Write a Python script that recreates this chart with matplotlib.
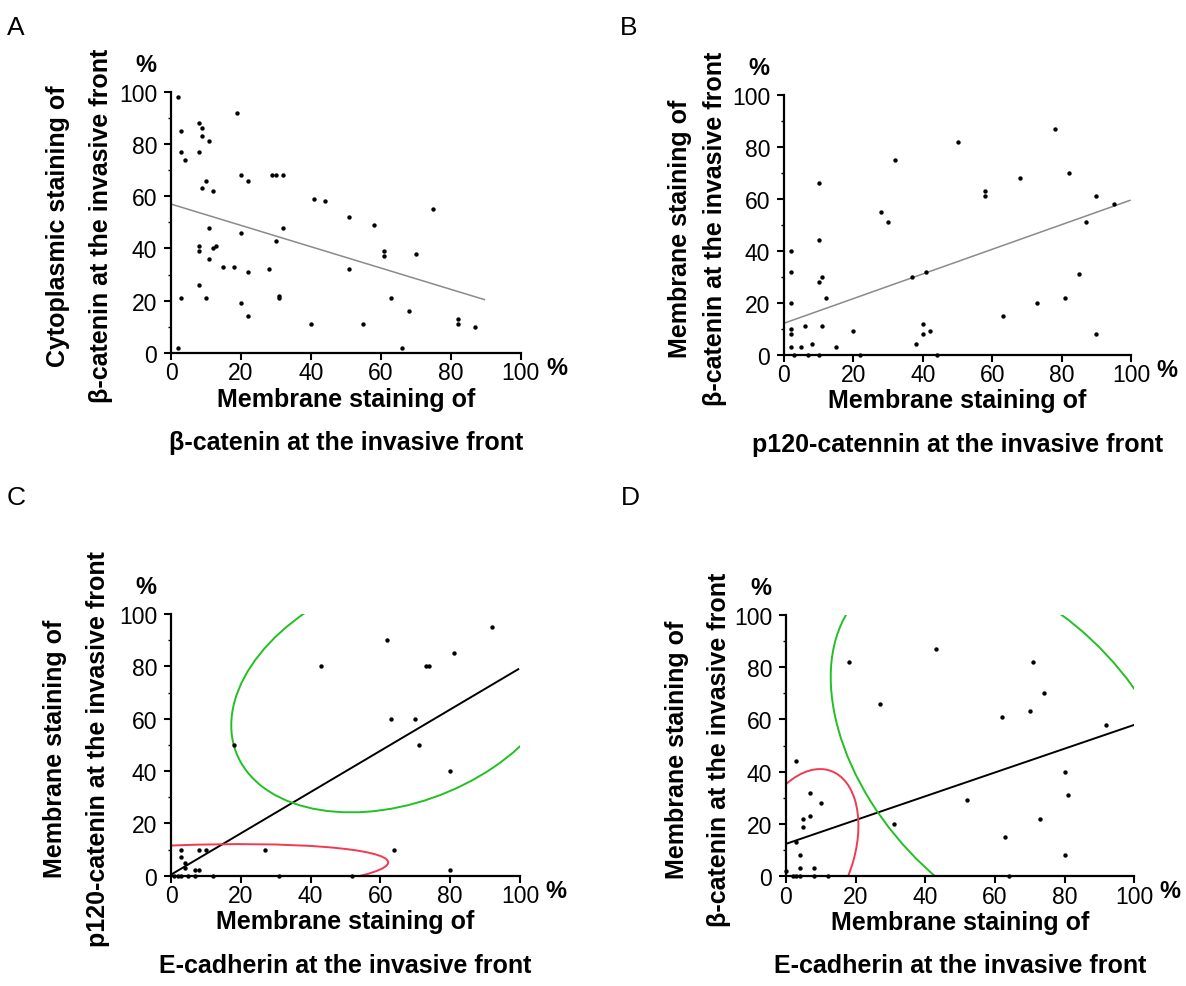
import matplotlib
matplotlib.use("Agg")
import matplotlib.pyplot as plt
from matplotlib.patches import Ellipse

# ---- data ------------------------------------------------------------------
# Panel A: membrane vs cytoplasmic beta-catenin
a_x = [2, 19, 3, 8, 9, 9, 11, 3, 8, 4, 20, 29, 30, 32, 22, 10, 9, 12, 41, 44,
       75, 51, 58, 11, 32, 20, 30, 8, 13, 12, 8, 61, 61, 70, 11, 15, 18, 22, 28, 51,
       8, 3, 10, 31, 31, 63, 20, 68, 22, 40, 55, 82, 82, 87, 2, 66]
a_y = [98, 92, 85, 88, 86, 83, 81, 77, 77, 74, 68, 68, 68, 68, 66, 66, 63, 62, 59, 58,
       55, 52, 49, 48, 48, 46, 43, 41, 41, 40, 39, 39, 37, 38, 36, 33, 33, 31, 32, 32,
       26, 21, 21, 22, 21, 21, 19, 16, 14, 11, 11, 13, 11, 10, 2, 2]

# Panel B: p120 vs beta-catenin membrane staining
b_x = [78, 50, 32, 82, 10, 68, 58, 58, 90, 95, 28, 30, 87, 10, 2, 2, 41, 37, 11, 10,
       85, 12, 81, 2, 73, 63, 6, 11, 2, 2, 40, 20, 42, 40, 90, 38, 8, 2, 5, 15,
       3, 7, 10, 22, 44]
b_y = [87, 82, 75, 70, 66, 68, 63, 61, 61, 58, 55, 51, 51, 44, 40, 32, 32, 30, 30, 28,
       31, 22, 22, 20, 20, 15, 11, 11, 10, 8, 12, 9, 9, 8, 8, 4, 4, 3, 3, 3,
       0, 0, 0, 0, 0]

# Panel C: E-cadherin vs p120
c_x = [92, 62, 81, 43, 73, 74, 63, 70, 18, 71, 80, 3, 8, 10, 27, 64,
       3, 4, 4, 7, 8, 80, 1, 2, 3, 5, 7, 12, 31, 52]
c_y = [95, 90, 85, 80, 80, 80, 60, 60, 50, 50, 40, 10, 10, 10, 10, 10,
       7, 5, 3, 2, 2, 2, 0, 0, 0, 0, 0, 0, 0, 0]

# Panel D: E-cadherin vs beta-catenin
d_x = [43, 18, 71, 74, 27, 70, 62, 92, 3, 80, 81, 7, 52, 10, 5, 7, 5, 31, 73, 3,
       63, 4, 80, 4, 8, 2, 3, 4, 8, 12, 64, 0]
d_y = [87, 82, 82, 70, 66, 63, 61, 58, 44, 40, 31, 32, 29, 28, 22, 23, 19, 20, 22, 13,
       15, 8, 8, 3, 3, 0, 0, 0, 0, 0, 0, 2]

# regression lines: intercept, slope, x end
fit_intercept = [57.0, 12.1, 0.4, 12.4]
fit_slope = [-0.408, 0.474, 0.789, 0.455]
fit_xend = [89.6, 99.7, 99.5, 99.7]

# cluster ellipses (center x, center y, width, height, angle), C and D
green_c = (65.5, 71.0, 108.0, 80.0, 42.0)
red_c = (2.0, 2.1, 120.6, 19.0, 2.9)
green_d = (63.7, 47.1, 151.3, 87.0, -64.8)
red_d = (4.5, 9.0, 65.1, 30.3, 78.0)

letters = ["A", "B", "C", "D"]
ylabel_1 = ["Cytoplasmic staining of", "Membrane staining of",
            "Membrane staining of", "Membrane staining of"]
ylabel_2 = ["\u03b2-catenin at the invasive front", "\u03b2-catenin at the invasive front",
            "p120-catenin at the invasive front", "\u03b2-catenin at the invasive front"]
xlabel_1 = ["Membrane staining of"] * 4
xlabel_2 = ["\u03b2-catenin at the invasive front", "p120-catennin at the invasive front",
            "E-cadherin at the invasive front", "E-cadherin at the invasive front"]
ticks = [0, 20, 40, 60, 80, 100]

# ---- layout (pixels) -------------------------------------------------------
W, H = 1186, 987
# left, top, right, bottom of each axes
boxes = [
    (171, 92.7, 520.7, 354.0),
    (784, 95.7, 1131.0, 355.7),
    (171, 615.0, 520.0, 876.7),
    (786, 615.7, 1134.3, 877.3),
]
letter_pos = [(16, 28), (629, 28), (16, 498), (630, 498)]
# baseline x of the two rotated y-title lines
ytitle_x = [(65, 108), (687, 722), (62, 105), (684, 726)]

FONT = ["Liberation Sans", "DejaVu Sans"]
plt.rcParams["font.family"] = FONT


def fx(x):
    return x / W


def fy(y):
    return 1 - y / H


fig = plt.figure(figsize=(W / 100, H / 100), dpi=100)

series = [(a_x, a_y), (b_x, b_y), (c_x, c_y), (d_x, d_y)]
for i, (xs, ys) in enumerate(series):
    left, top, right, bottom = boxes[i]
    ax = fig.add_axes([fx(left), fy(bottom), fx(right - left), (bottom - top) / H])
    ax.set_xlim(0, 100)
    ax.set_ylim(0, 100)
    for side in ("top", "right"):
        ax.spines[side].set_visible(False)
    for side in ("left", "bottom"):
        ax.spines[side].set_linewidth(1.6)
    ax.set_xticks(ticks)
    ax.set_yticks(ticks)
    ax.set_yticks(range(10, 100, 20), minor=True)
    ax.tick_params(axis="both", which="major", direction="out", length=5,
                   width=1.5, labelsize=16.5)
    ax.tick_params(axis="x", pad=1)
    ax.tick_params(axis="y", pad=5)
    ax.tick_params(axis="y", which="minor", direction="out", length=2.5, width=1)

    line_color = "#8a8a8a" if i < 2 else "black"
    line_width = 1.1 if i < 2 else 1.4
    xe = fit_xend[i]
    ax.plot([0, xe], [fit_intercept[i], fit_intercept[i] + fit_slope[i] * xe],
            color=line_color, lw=line_width, zorder=2)

    if i == 2:
        ells = [(green_c, "#22c022"), (red_c, "#f2394f")]
    elif i == 3:
        ells = [(green_d, "#22c022"), (red_d, "#f2394f")]
    else:
        ells = []
    for (cx, cy, w, h, ang), col in ells:
        ax.add_patch(Ellipse((cx, cy), w, h, angle=ang, fill=False,
                             edgecolor=col, lw=1.4, zorder=2))

    ax.scatter(xs, ys, s=10, color="black", zorder=3, clip_on=False, linewidths=0)

    # percent signs
    fig.text(fx(left - 25), fy(top - 27), "%", weight="bold",
             fontsize=17, ha="center", va="center")
    fig.text(fx(right + 36), fy(bottom + 14.5), "%", weight="bold",
             fontsize=17, ha="center", va="center")

    # axis titles
    xc = (left + right) / 2
    fig.text(fx(xc), fy(bottom + 52.5), xlabel_1[i], weight="bold",
             fontsize=18, ha="center", va="baseline")
    fig.text(fx(xc), fy(bottom + 96), xlabel_2[i], weight="bold",
             fontsize=18, ha="center", va="baseline")
    yc = (top + bottom) / 2 + 3
    x1, x2 = ytitle_x[i]
    fig.text(fx(x1), fy(yc), ylabel_1[i], weight="bold", fontsize=18,
             rotation=90, rotation_mode="anchor", ha="center", va="baseline")
    fig.text(fx(x2), fy(yc), ylabel_2[i], weight="bold", fontsize=18,
             rotation=90, rotation_mode="anchor", ha="center", va="baseline")

    lx, ly = letter_pos[i]
    fig.text(fx(lx), fy(ly), letters[i], fontsize=19, ha="center", va="center")

fig.savefig("out.png", dpi=100)
